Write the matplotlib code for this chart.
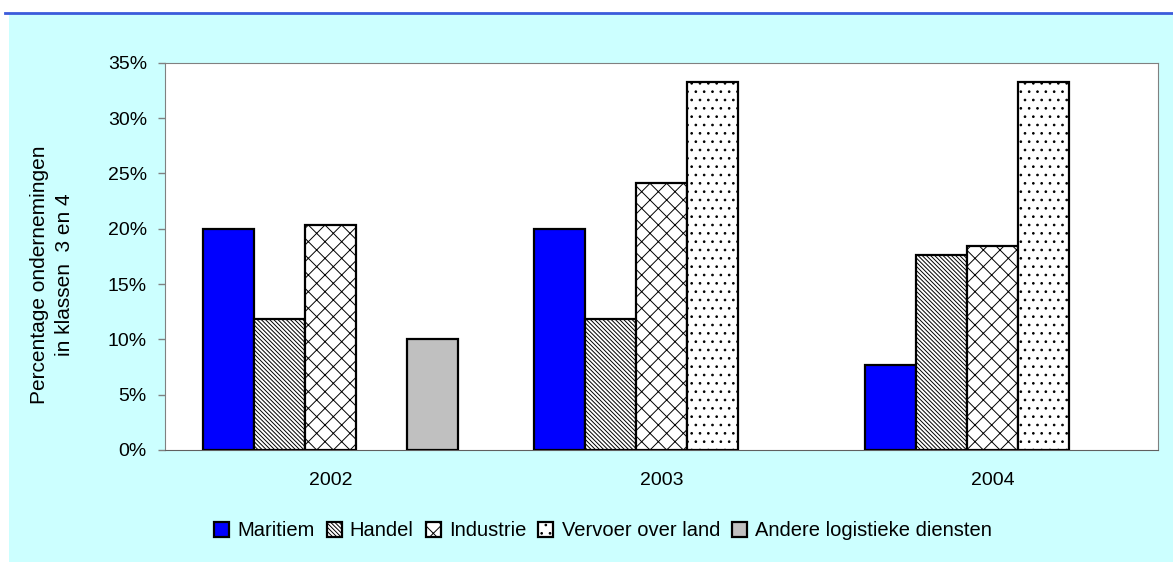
import matplotlib.pyplot as plt
import numpy as np
from matplotlib.patches import Rectangle
from matplotlib.lines import Line2D
from matplotlib.ticker import FuncFormatter

plt.rcParams['font.family'] = ['Liberation Sans', 'DejaVu Sans']
plt.rcParams['hatch.linewidth'] = 0.7

years = ['2002', '2003', '2004']
series = ['Maritiem', 'Handel', 'Industrie', 'Vervoer over land', 'Andere logistieke diensten']
maritiem = [20.0, 20.0, 7.7]
handel = [11.8, 11.8, 17.6]
industrie = [20.3, 24.1, 18.4]
vervoer = [np.nan, 33.3, 33.3]
andere = [10.0, np.nan, np.nan]

values = [maritiem, handel, industrie, vervoer, andere]
faces = ['#0000FF', 'white', 'white', 'white', '#C0C0C0']
hatches = [None, '\\' * 8, 'xx', '..', None]

W, H = 1173, 565
fig = plt.figure(figsize=(W / 100, H / 100), dpi=100, facecolor='white')

# cyan panel and blue rule at the top
fig.patches.append(Rectangle((9 / W, 1 - 562 / H), (W - 9) / W, (562 - 13) / H,
                             transform=fig.transFigure, facecolor='#CCFFFF',
                             edgecolor='none', zorder=-5))
fig.lines.append(Line2D([5 / W, 1], [1 - 12.5 / H, 1 - 12.5 / H],
                        transform=fig.transFigure, color='#3B5BDB', lw=2))

ax = fig.add_axes([165 / W, 1 - 450 / H, (1158 - 165) / W, (450 - 62.7) / H])
ax.set_facecolor('white')

x = np.arange(len(years))
w = 0.154
for i, (vals, fc, hc, name) in enumerate(zip(values, faces, hatches, series)):
    ax.bar(x + (i - 2) * w, vals, width=w, color=fc, hatch=hc,
           edgecolor='black', linewidth=1.6, label=name, zorder=3)

ax.set_xlim(-0.5, 2.5)
ax.set_ylim(0, 35)
ax.set_yticks(np.arange(0, 36, 5))
ax.yaxis.set_major_formatter(FuncFormatter(lambda v, p: f'{v:.0f}%'))
ax.set_xticks(x)
ax.set_xticklabels(years)
ax.tick_params(axis='y', length=5, width=1, color='#808080', pad=8, labelsize=14)
ax.tick_params(axis='x', length=0, pad=16, labelsize=14)
for s in ['left', 'top', 'right']:
    ax.spines[s].set_color('#808080')
ax.spines['bottom'].set_color('#606060')

fig.text(52 / W, 1 - 275 / H, 'Percentage ondernemingen\nin klassen  3 en 4',
         rotation=90, ha='center', va='center', fontsize=15, linespacing=1.35)

fig.legend(loc='center', bbox_to_anchor=(603 / W, 1 - 531 / H), ncol=5,
           frameon=False, fontsize=14.5, handlelength=0.75, handleheight=0.75,
           handletextpad=0.4, columnspacing=0.6, borderaxespad=0)

fig.savefig('out.png', dpi=100, facecolor='white')
